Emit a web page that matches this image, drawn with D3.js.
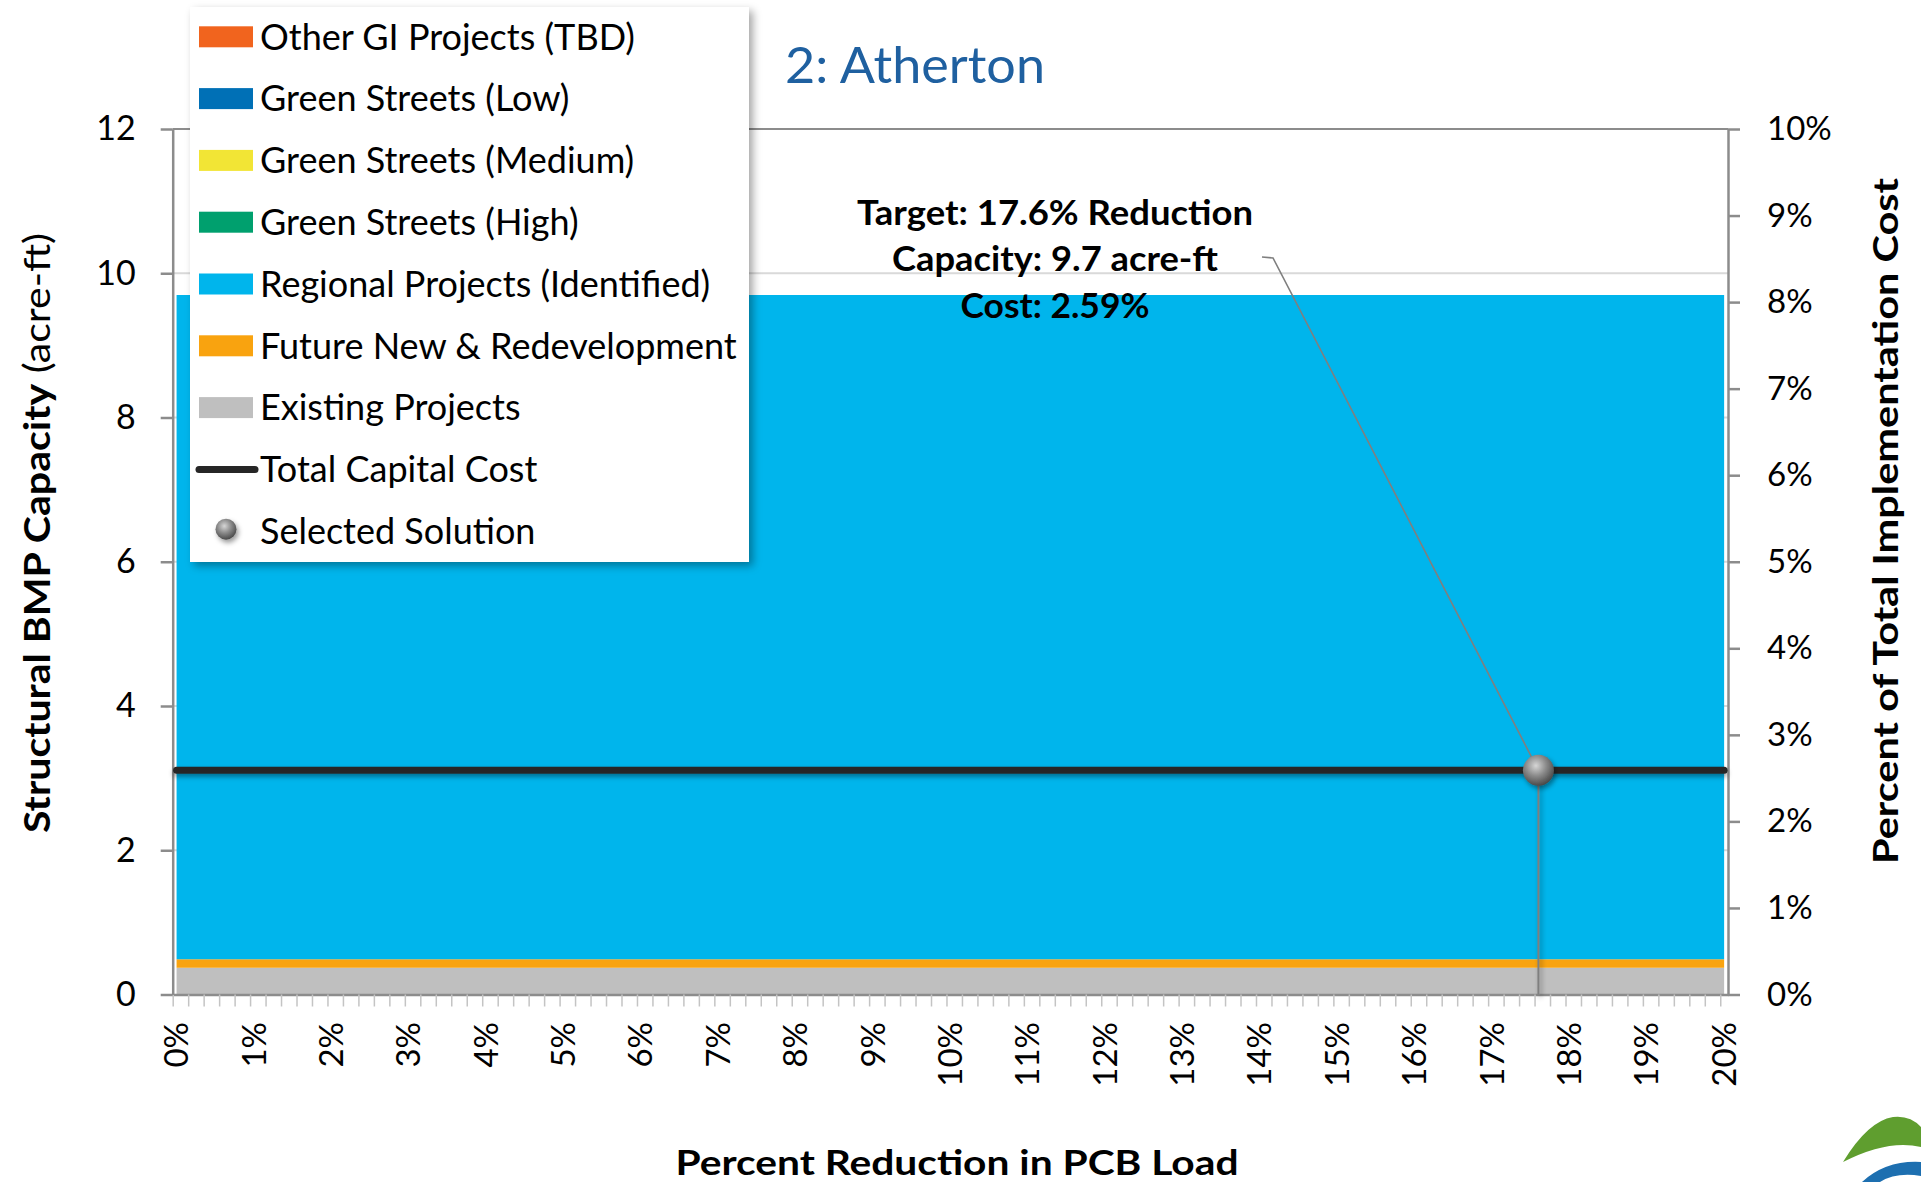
<!DOCTYPE html>
<html lang="en">
<head>
<title>2: Atherton - BMP capacity vs PCB load reduction</title>
<meta charset="utf-8">

<script src="https://d3js.org/d3.v7.min.js"></script>

<style type="text/css">

  html, body {
    margin: 0;
    padding: 0;
    background: #fff;
  }
  svg {
    display: block;
    font-family: 'Lato', 'Open Sans', sans-serif;
  }

</style>
</head>

<body>

<div id="chart"></div>

<script>

/* Data */
/* ==== */

// x extent of the solution curve, percent reduction in PCB load
var reductionPct = [0, 20];

// structural BMP capacity by type (acre-ft), stacked bottom to top
var existingProjects = [0.37, 0.37];
var futureRedevelopment = [0.12, 0.12];
var regionalIdentified = [9.21, 9.21];
var greenStreetsHigh = [0, 0];
var greenStreetsMedium = [0, 0];
var greenStreetsLow = [0, 0];
var otherGIProjects = [0, 0];

// total capital cost, percent of total implementation cost
var totalCostPct = [2.59, 2.59];

var selectedSolution = { reduction: 17.6, capacity: 9.7, cost: 2.59 };

var seriesNames = [
  'Existing Projects',
  'Future New & Redevelopment',
  'Regional Projects (Identified)',
  'Green Streets (High)',
  'Green Streets (Medium)',
  'Green Streets (Low)',
  'Other GI Projects (TBD)'
];
var seriesColors = ['#bfbfbf', '#f9a30f', '#00b5ec', '#00a06e', '#f2e535', '#0070b6', '#f1641e'];

var leftTicks = [0, 2, 4, 6, 8, 10, 12];
var rightTicks = [0, 1, 2, 3, 4, 5, 6, 7, 8, 9, 10];
var xTickLabels = [0, 1, 2, 3, 4, 5, 6, 7, 8, 9, 10, 11, 12, 13, 14, 15, 16, 17, 18, 19, 20];


/* Set up svg and scales */
/* ===================== */

var width = 1921,
    height = 1182;

var plot = { left: 172.7, right: 1728, top: 129, bottom: 994.5 };

var svg = d3.select('#chart').append('svg')
  .attr('width', width)
  .attr('height', height);

var defs = svg.append('defs');

// filters in user space so flat (zero height / width) lines keep their region
function shadowFilter(id, dx, dy, blur, opacity) {
  var f = defs.append('filter').attr('id', id)
    .attr('filterUnits', 'userSpaceOnUse')
    .attr('x', -width).attr('y', -height).attr('width', width * 3).attr('height', height * 3);
  f.append('feDropShadow')
    .attr('dx', dx).attr('dy', dy).attr('stdDeviation', blur)
    .attr('flood-color', '#000').attr('flood-opacity', opacity);
}
shadowFilter('legendShadow', 4, 4, 4, 0.35);
shadowFilter('lineShadow', 0, 3, 2.5, 0.4);
shadowFilter('dotShadow', 2, 3, 2.5, 0.4);

var grad = defs.append('radialGradient').attr('id', 'sphere')
  .attr('cx', '42%').attr('cy', '35%').attr('r', '65%');
grad.append('stop').attr('offset', '0%').attr('stop-color', '#d6d6d6');
grad.append('stop').attr('offset', '50%').attr('stop-color', '#8c8c8c');
grad.append('stop').attr('offset', '100%').attr('stop-color', '#4a4a4a');

var x = d3.scaleLinear()
  .domain([-0.05, 20.05])
  .range([plot.left, plot.right]);

var y = d3.scaleLinear()
  .domain([0, 12])
  .range([plot.bottom, plot.top]);

var yRight = d3.scaleLinear()
  .domain([0, 10])
  .range([plot.bottom, plot.top]);


/* Gridlines */
/* ========= */

svg.append('g').attr('class', 'grid')
  .selectAll('line')
  .data(leftTicks.filter(function(d) { return d > 0; }))
  .join('line')
  .attr('x1', plot.left)
  .attr('x2', plot.right)
  .attr('y1', function(d) { return y(d); })
  .attr('y2', function(d) { return y(d); })
  .attr('stroke', function(d) { return d === 12 ? '#8c8c8c' : '#d9d9d9'; })
  .attr('stroke-width', 2);


/* Stacked areas */
/* ============= */

var columns = [existingProjects, futureRedevelopment, regionalIdentified,
  greenStreetsHigh, greenStreetsMedium, greenStreetsLow, otherGIProjects];

var rows = reductionPct.map(function(r, i) {
  var row = { reduction: r, cost: totalCostPct[i] };
  seriesNames.forEach(function(name, j) { row[name] = columns[j][i]; });
  return row;
});

var stacked = d3.stack().keys(seriesNames)(rows);

var area = d3.area()
  .x(function(d) { return x(d.data.reduction); })
  .y0(function(d) { return y(d[0]); })
  .y1(function(d) { return y(d[1]); });

svg.append('g').attr('class', 'areas')
  .selectAll('path')
  .data(stacked)
  .join('path')
  .attr('d', area)
  .attr('fill', function(d, i) { return seriesColors[i]; });


/* Axes */
/* ==== */

var minorTicks = d3.range(0, 101).map(function(k) { return -0.05 + k * 0.2; });

var xAxis = svg.append('g')
  .attr('transform', 'translate(0,' + plot.bottom + ')')
  .call(d3.axisBottom(x).tickValues(minorTicks).tickSize(12).tickSizeOuter(0).tickFormat(''));
xAxis.selectAll('.tick line').attr('stroke', '#c4c4c4').attr('stroke-width', 1.5);
xAxis.select('.domain').attr('stroke', '#8c8c8c').attr('stroke-width', 2.5);

svg.append('g').attr('class', 'x-labels')
  .selectAll('text')
  .data(xTickLabels)
  .join('text')
  .attr('transform', function(d) { return 'translate(' + x(d) + ',1022) rotate(-90)'; })
  .attr('text-anchor', 'end')
  .attr('dy', '0.35em')
  .attr('font-size', 33)
  .attr('fill', '#000')
  .text(function(d) { return d + '%'; });

var yAxis = svg.append('g')
  .attr('transform', 'translate(' + plot.left + ',0)')
  .call(d3.axisLeft(y).tickValues(leftTicks).tickSize(12).tickSizeOuter(0).tickPadding(25));
yAxis.selectAll('.tick line').attr('stroke', '#8c8c8c').attr('stroke-width', 2.5);
yAxis.select('.domain').attr('stroke', '#8c8c8c').attr('stroke-width', 2.5);
yAxis.selectAll('.tick text')
  .attr('font-size', 34)
  .attr('font-family', 'Lato, sans-serif')
  .attr('fill', '#000');

var yAxisRight = svg.append('g')
  .attr('transform', 'translate(' + plot.right + ',0)')
  .call(d3.axisRight(yRight).tickValues(rightTicks).tickSize(12).tickSizeOuter(0).tickPadding(27)
    .tickFormat(function(d) { return d + '%'; }));
yAxisRight.selectAll('.tick line').attr('stroke', '#8c8c8c').attr('stroke-width', 2.5);
yAxisRight.select('.domain').attr('stroke', '#8c8c8c').attr('stroke-width', 2.5);
yAxisRight.selectAll('.tick text')
  .attr('font-size', 33)
  .attr('font-family', 'Lato, sans-serif')
  .attr('fill', '#000');


/* Axis titles and chart title */
/* =========================== */

var yTitle = svg.append('text')
  .attr('transform', 'translate(37,533) rotate(-90)')
  .attr('text-anchor', 'middle')
  .attr('dy', '0.35em')
  .attr('font-size', 37)
  .attr('textLength', 600)
  .attr('lengthAdjust', 'spacingAndGlyphs')
  .attr('fill', '#000');
yTitle.append('tspan').attr('font-weight', 700).text('Structural BMP Capacity');
yTitle.append('tspan').attr('font-weight', 400).text(' (acre-ft)');

svg.append('text')
  .attr('transform', 'translate(1886,521) rotate(-90)')
  .attr('text-anchor', 'middle')
  .attr('dy', '0.35em')
  .attr('font-size', 35)
  .attr('font-weight', 700)
  .attr('textLength', 686)
  .attr('lengthAdjust', 'spacingAndGlyphs')
  .attr('fill', '#000')
  .text('Percent of Total Implementation Cost');

svg.append('text')
  .attr('x', 957)
  .attr('y', 1175)
  .attr('text-anchor', 'middle')
  .attr('font-size', 34)
  .attr('font-weight', 700)
  .attr('textLength', 563)
  .attr('lengthAdjust', 'spacingAndGlyphs')
  .attr('fill', '#000')
  .text('Percent Reduction in PCB Load');

svg.append('text')
  .attr('x', 785)
  .attr('y', 83)
  .attr('font-size', 51)
  .attr('textLength', 260)
  .attr('lengthAdjust', 'spacingAndGlyphs')
  .attr('fill', '#1f60a0')
  .text('2: Atherton');


/* Cost line, selected solution and callout */
/* ======================================== */

var costLine = d3.line()
  .x(function(d) { return x(d.reduction); })
  .y(function(d) { return yRight(d.cost); });

svg.append('path')
  .datum(rows)
  .attr('d', costLine)
  .attr('fill', 'none')
  .attr('stroke', '#262626')
  .attr('stroke-width', 7)
  .attr('stroke-linecap', 'round')
  .attr('filter', 'url(#lineShadow)');

var sx = x(selectedSolution.reduction),
    sy = yRight(selectedSolution.cost);

svg.append('line')
  .attr('x1', sx).attr('x2', sx)
  .attr('y1', sy).attr('y2', plot.bottom)
  .attr('stroke', '#7f7f7f')
  .attr('stroke-width', 2)
  .attr('filter', 'url(#dotShadow)');

svg.append('polyline')
  .attr('points', [[1262, 257], [1273, 258], [sx, sy]].map(function(p) { return p.join(','); }).join(' '))
  .attr('fill', 'none')
  .attr('stroke', '#7f7f7f')
  .attr('stroke-width', 1.6);

svg.append('circle')
  .attr('cx', sx)
  .attr('cy', sy)
  .attr('r', 15.5)
  .attr('fill', 'url(#sphere)')
  .attr('filter', 'url(#dotShadow)');

var callout = [
  { text: 'Target: ' + selectedSolution.reduction + '% Reduction', y: 225, w: 396 },
  { text: 'Capacity: ' + selectedSolution.capacity + ' acre-ft', y: 271, w: 326 },
  { text: 'Cost: ' + selectedSolution.cost + '%', y: 318, w: 189 }
];

svg.append('g').attr('class', 'callout')
  .selectAll('text')
  .data(callout)
  .join('text')
  .attr('x', 1055)
  .attr('y', function(d) { return d.y; })
  .attr('text-anchor', 'middle')
  .attr('font-size', 35)
  .attr('font-weight', 700)
  .attr('textLength', function(d) { return d.w; })
  .attr('lengthAdjust', 'spacingAndGlyphs')
  .attr('fill', '#000')
  .text(function(d) { return d.text; });


/* Legend */
/* ====== */

var legend = svg.append('g').attr('class', 'legend');

legend.append('rect')
  .attr('x', 190)
  .attr('y', 7)
  .attr('width', 559)
  .attr('height', 555)
  .attr('fill', '#fff')
  .attr('filter', 'url(#legendShadow)');

var legendItems = seriesNames.map(function(name, i) {
  return { name: name, color: seriesColors[i], kind: 'area' };
}).reverse();
legendItems.push({ name: 'Total Capital Cost', color: '#262626', kind: 'line' });
legendItems.push({ name: 'Selected Solution', color: null, kind: 'dot' });

var rowH = 61.8, firstRow = 36.8;

var item = legend.selectAll('g.item')
  .data(legendItems)
  .join('g')
  .attr('class', 'item')
  .attr('transform', function(d, i) { return 'translate(0,' + (firstRow + i * rowH) + ')'; });

item.filter(function(d) { return d.kind === 'area'; })
  .append('rect')
  .attr('x', 199)
  .attr('y', -10.5)
  .attr('width', 54)
  .attr('height', 21)
  .attr('fill', function(d) { return d.color; });

item.filter(function(d) { return d.kind === 'line'; })
  .append('line')
  .attr('x1', 199).attr('x2', 255)
  .attr('y1', 0).attr('y2', 0)
  .attr('stroke', function(d) { return d.color; })
  .attr('stroke-width', 7)
  .attr('stroke-linecap', 'round');

item.filter(function(d) { return d.kind === 'dot'; })
  .append('circle')
  .attr('cx', 226)
  .attr('cy', -2)
  .attr('r', 10.5)
  .attr('fill', 'url(#sphere)')
  .attr('filter', 'url(#dotShadow)');

item.append('text')
  .attr('x', 260)
  .attr('y', 12.8)
  .attr('font-size', 36)
  .attr('fill', '#000')
  .text(function(d) { return d.name; });


/* Logo corner */
/* =========== */

var logo = svg.append('g').attr('class', 'logo');
logo.append('path')
  .attr('d', 'M1843,1162 Q1868,1121 1893,1117 Q1910,1115 1921,1127 L1921,1147 Q1888,1139 1843,1162 Z')
  .attr('fill', '#5f9e2f');
logo.append('path')
  .attr('d', 'M1862,1182 Q1886,1160 1921,1162 L1921,1176 Q1896,1172 1880,1182 Z')
  .attr('fill', '#1d6fb0');

</script>

</body>
</html>
